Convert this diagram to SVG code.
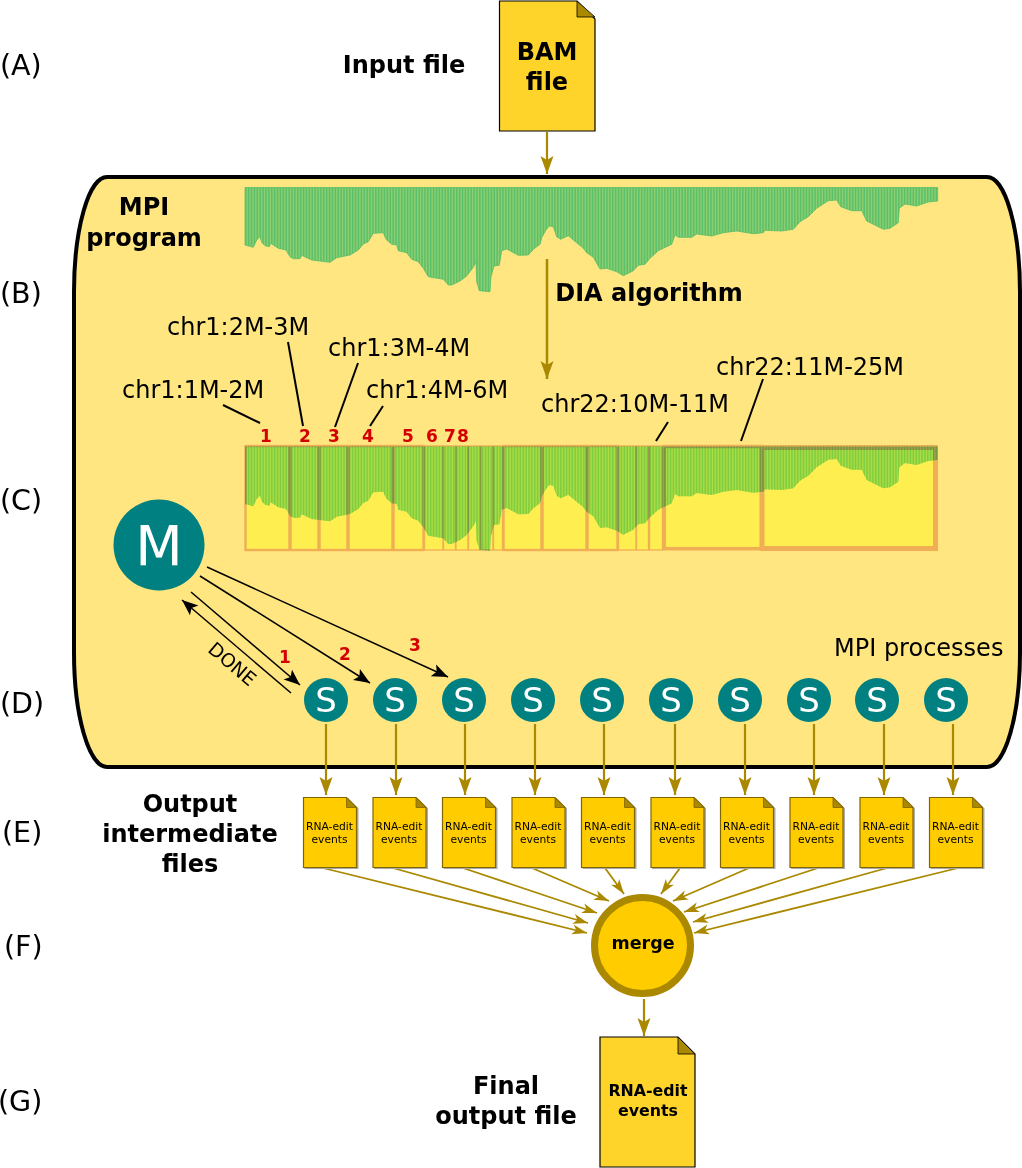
<svg xmlns="http://www.w3.org/2000/svg" xmlns:xlink="http://www.w3.org/1999/xlink" width="1022" height="1168" viewBox="0 0 1022 1168">
<style>
text{font-family:"DejaVu Sans",sans-serif;fill:#000}
.lab{font-size:28.500px}
.b24{font-size:24px;font-weight:bold;text-anchor:middle}
.r24{font-size:24px}
.red{font-size:17px;font-weight:bold;fill:#d40000;text-anchor:middle}
.small{font-size:10.700px;text-anchor:middle}
.bold17{font-size:17.500px;font-weight:bold;text-anchor:middle}
.s{font-size:34px;fill:#fff;text-anchor:middle}
.tl{fill:#008080}
.gold{stroke:#aa8800;stroke-width:2.200;fill:none;marker-end:url(#ag)}
.goldT{stroke:#aa8800;stroke-width:1.800;fill:none;marker-end:url(#agS)}
.blk{stroke:#000;stroke-width:1.500;fill:none;marker-end:url(#ak)}
.lead{stroke:#000;stroke-width:2;fill:none}
.doc{fill:#ffcc00;stroke:#806600;stroke-width:1.200}
.shadow{fill:#aaa}
.docB{fill:#ffd42a;stroke:#000;stroke-width:1.200}
.fold{fill:#aa8800;stroke:#000;stroke-width:.8;stroke-linejoin:round}
.foldS{fill:#aa8800;stroke:#806600;stroke-width:.8}
.box{fill:#ffee50;stroke:#f0ae55;stroke-width:2.400}
.thin{stroke-width:1.300}
.stripe{fill:none;stroke-width:120;stroke-dasharray:1.500 1.390}
</style>
<defs>
<path id="profile" d="M245,187.500H937.700V201L928.300,202 916.700,206 905,204 899.300,208.300 898.300,222.700 890,228.300 883.300,229.300 866.700,221 861.700,210.700 851.700,210.700 840.700,206.700 836.700,200 828.300,200.700 816.700,208.300 808.300,216.700 800,221.700 793.300,229.300 781.700,231 765,230.300 763.300,232.700 753.300,233.700 736.700,231 723.300,232.700 711.700,236 696.700,234 691.700,237.300 678.300,237.300 675,235 671.700,244.300 658.300,250.700 650,258.300 645,264.300 638.300,265.300 633.300,270.700 623.300,275.700 616.700,271.700 606.700,268.300 600,269 593.300,257.300 586.700,252.700 583.300,248.300 577.300,243.300 573.300,240 568.300,235.700 560.700,239.300 556.700,236.700 553.300,226.700 549.300,226 546,230 541.700,237.700 540,244.300 533.300,249.300 528.300,255 518.300,255.300 506.700,249 501.700,250.700 499.300,265.300 494,266 491,276.700 490,291.700 479.300,290.700 476.700,281.700 476,261.700 473.300,267.300 466.700,276 460,281 451.700,285 448.300,285 443.300,279.300 428.300,276.700 423.300,268.300 418.300,261.700 411.700,259.300 406.700,252.700 398.300,250.700 396.700,245 391.700,244.300 386,239.300 383.300,232.700 373.300,233.300 368.300,241.700 363.300,244 358.300,250 350,255 336.700,257.700 330,262.300 311.700,260 301.700,255.300 300,258.700 293.300,258.700 290,256.700 286,250 278.300,248.300 270.700,243.300 269.300,246.700 265,245.700 261.700,242.300 260,236.700 256.700,240 253.300,247.300 245,245Z"/>
<clipPath id="profileClip"><use href="#profile"/></clipPath>
<marker id="ag" markerUnits="userSpaceOnUse" markerWidth="22" markerHeight="16" viewBox="-20 -8 22 16" refX="0" refY="0" orient="auto"><path d="M0,0L-18,-6.500-14,0-18,6.500Z" fill="#aa8800"/></marker>
<marker id="agS" markerUnits="userSpaceOnUse" markerWidth="18" markerHeight="12" viewBox="-16 -6 18 12" refX="0" refY="0" orient="auto"><path d="M0,0L-15,-5-11,0-15,5Z" fill="#aa8800"/></marker>
<marker id="ak" markerUnits="userSpaceOnUse" markerWidth="20" markerHeight="16" viewBox="-18 -8 20 16" refX="0" refY="0" orient="auto"><path d="M0,0L-16,-6.500-12.500,0-16,6.500Z" fill="#000"/></marker>
<g id="smalldoc"><path class="shadow" d="M1,1H45L55,11V71.500H1Z"/><path class="doc" d="M0,0H43L53,10V70H0Z"/><path class="foldS" d="M43,0L53,10H43Z"/><text class="small" x="26" y="32">RNA-edit</text><text class="small" x="26" y="45">events</text></g>
</defs>

<rect id="mpi-program" x="74" y="177" width="946" height="590" rx="33" ry="115" fill="#ffe680" stroke="#000" stroke-width="4"/>

<g id="labels">
<text class="lab" x="0" y="75">(A)</text>
<text class="lab" x="0" y="303">(B)</text>
<text class="lab" x="0" y="510">(C)</text>
<text class="lab" x="0" y="713">(D)</text>
<text class="lab" x="2" y="842">(E)</text>
<text class="lab" x="4" y="956">(F)</text>
<text class="lab" x="-2" y="1111">(G)</text>
<text class="b24" x="404" y="73">Input file</text>
<text class="b24" x="144" y="215">MPI</text>
<text class="b24" x="144" y="246">program</text>
<text class="b24" x="649" y="301">DIA algorithm</text>
<text class="r24" x="167" y="335">chr1:2M-3M</text>
<text class="r24" x="328" y="356">chr1:3M-4M</text>
<text class="r24" x="122" y="398">chr1:1M-2M</text>
<text class="r24" x="366" y="398">chr1:4M-6M</text>
<text class="r24" x="541" y="412">chr22:10M-11M</text>
<text class="r24" x="716" y="375">chr22:11M-25M</text>
<text class="r24" x="834" y="656">MPI processes</text>
<text class="b24" x="190" y="812">Output</text>
<text class="b24" x="190" y="842">intermediate</text>
<text class="b24" x="190" y="872">files</text>
<text class="b24" x="506" y="1094">Final</text>
<text class="b24" x="506" y="1124">output file</text>
<text class="red" x="266" y="441.500">1</text>
<text class="red" x="305" y="441.500">2</text>
<text class="red" x="334" y="441.500">3</text>
<text class="red" x="368" y="441.500">4</text>
<text class="red" x="408" y="441.500">5</text>
<text class="red" x="432" y="441.500">6</text>
<text class="red" x="450" y="441.500">7</text>
<text class="red" x="463" y="441.500">8</text>
<text class="red" x="285" y="662.500">1</text>
<text class="red" x="345" y="660">2</text>
<text class="red" x="415" y="651">3</text>
<text x="0" y="0" font-size="19" text-anchor="middle" transform="translate(228,669) rotate(40.500)">DONE</text>
</g>

<g id="coverage-top"><use href="#profile" fill="#8ccf70" stroke="#5cbf6a" stroke-width=".8"/><path class="stripe" stroke="#5cbf6a" clip-path="url(#profileClip)" d="M245,240H938"/></g>

<g id="segments">
<rect class="box" x="245.500" y="446" width="44" height="104"/>
<rect class="box" x="290.500" y="446" width="28" height="104"/>
<rect class="box" x="319.500" y="446" width="28" height="104"/>
<rect class="box" x="348.500" y="446" width="44" height="104"/>
<rect class="box" x="393.500" y="446" width="30" height="104"/>
<rect class="box thin" x="424.500" y="446" width="18.500" height="104"/>
<rect class="box thin" x="443.500" y="446" width="12" height="104"/>
<rect class="box thin" x="456" y="446" width="12" height="104"/>
<rect class="box thin" x="468.500" y="446" width="12" height="104"/>
<rect class="box thin" x="481" y="446" width="12" height="104"/>
<rect class="box thin" x="493.500" y="446" width="9" height="104"/>
<rect class="box" x="503.500" y="446" width="38" height="104"/>
<rect class="box" x="542.500" y="446" width="44" height="104"/>
<rect class="box" x="587.500" y="446" width="30" height="104"/>
<rect class="box thin" x="618.500" y="446" width="17.500" height="104"/>
<rect class="box thin" x="636.500" y="446" width="12" height="104"/>
<rect class="box thin" x="649.500" y="446" width="13" height="104"/>
<rect class="box" style="stroke-width:3.500" x="664.300" y="446.500" width="97.700" height="102.200"/>
<rect class="box" style="stroke-width:5" x="762" y="447.500" width="173.500" height="101"/>
</g>
<g id="coverage-segments" style="mix-blend-mode:multiply" transform="translate(0,259)"><use href="#profile" fill="#aaecd8"/><path class="stripe" stroke="#80dcc8" clip-path="url(#profileClip)" d="M245,240H938"/></g>

<g id="connectors">
<path class="gold" d="M547,132V174"/>
<path class="gold" style="stroke-width:2.500" d="M547,259V379"/>
<path class="gold" d="M644,999V1036"/>
<path class="gold" d="M326,724V795"/>
<path class="gold" d="M396,724V795"/>
<path class="gold" d="M465,724V795"/>
<path class="gold" d="M535,724V795"/>
<path class="gold" d="M604,724V795"/>
<path class="gold" d="M675,724V795"/>
<path class="gold" d="M745,724V795"/>
<path class="gold" d="M814,724V795"/>
<path class="gold" d="M884,724V795"/>
<path class="gold" d="M953,724V795"/>
<path class="goldT" d="M323,868L587,933"/>
<path class="goldT" d="M393,868L588,923"/>
<path class="goldT" d="M463,868L597,913"/>
<path class="goldT" d="M532,868L609,901"/>
<path class="goldT" d="M605,868L624,894"/>
<path class="goldT" d="M680,868L661,894"/>
<path class="goldT" d="M749,868L673,901"/>
<path class="goldT" d="M818,868L684,912"/>
<path class="goldT" d="M887,868L693,922"/>
<path class="goldT" d="M958,868L694,933"/>
<path class="lead" d="M223,405L260,423"/>
<path class="lead" d="M288,342L303,426"/>
<path class="lead" d="M358,363L335,427"/>
<path class="lead" d="M383,406L370,426"/>
<path class="lead" d="M668,422L656,441"/>
<path class="lead" d="M763,379L741,441"/>
<path class="blk" d="M191,592L300,685"/>
<path class="blk" d="M200,576L370,683"/>
<path class="blk" d="M207,567L448,677"/>
<path class="blk" d="M291,693L182,600"/>
</g>

<g id="input-file"><path class="docB" d="M499.500,1H577L595,19V131H499.500Z"/><path class="fold" d="M577,1L595,17H577Z"/><text class="b24" x="547" y="60">BAM</text><text class="b24" x="547" y="90">file</text></g>
<g id="master"><circle class="tl" cx="159" cy="545" r="45.500"/><text class="s" style="font-size:55px" x="159" y="565">M</text></g>
<g id="slave-1"><circle class="tl" cx="326" cy="700" r="22"/><text class="s" x="326" y="712">S</text></g>
<g id="slave-2"><circle class="tl" cx="395" cy="700" r="22"/><text class="s" x="395" y="712">S</text></g>
<g id="slave-3"><circle class="tl" cx="464" cy="700" r="22"/><text class="s" x="464" y="712">S</text></g>
<g id="slave-4"><circle class="tl" cx="533" cy="700" r="22"/><text class="s" x="533" y="712">S</text></g>
<g id="slave-5"><circle class="tl" cx="602" cy="700" r="22"/><text class="s" x="602" y="712">S</text></g>
<g id="slave-6"><circle class="tl" cx="671" cy="700" r="22"/><text class="s" x="671" y="712">S</text></g>
<g id="slave-7"><circle class="tl" cx="740" cy="700" r="22"/><text class="s" x="740" y="712">S</text></g>
<g id="slave-8"><circle class="tl" cx="809" cy="700" r="22"/><text class="s" x="809" y="712">S</text></g>
<g id="slave-9"><circle class="tl" cx="877" cy="700" r="22"/><text class="s" x="877" y="712">S</text></g>
<g id="slave-10"><circle class="tl" cx="946" cy="700" r="22"/><text class="s" x="946" y="712">S</text></g>
<g id="out-1"><use href="#smalldoc" x="303.500" y="797.500"/></g>
<g id="out-2"><use href="#smalldoc" x="373" y="797.500"/></g>
<g id="out-3"><use href="#smalldoc" x="442.500" y="797.500"/></g>
<g id="out-4"><use href="#smalldoc" x="512" y="797.500"/></g>
<g id="out-5"><use href="#smalldoc" x="581.500" y="797.500"/></g>
<g id="out-6"><use href="#smalldoc" x="651" y="797.500"/></g>
<g id="out-7"><use href="#smalldoc" x="720.500" y="797.500"/></g>
<g id="out-8"><use href="#smalldoc" x="790" y="797.500"/></g>
<g id="out-9"><use href="#smalldoc" x="860" y="797.500"/></g>
<g id="out-10"><use href="#smalldoc" x="929.500" y="797.500"/></g>
<g id="merge"><circle cx="642.500" cy="945.500" r="48" fill="#ffcc00" stroke="#aa8800" stroke-width="7"/><text class="bold17" x="643" y="949">merge</text></g>
<g id="final-file"><path class="docB" d="M600,1037H678L695,1054V1167H600Z"/><path class="fold" d="M678,1037L695,1054H678Z"/><text class="bold17" style="font-size:15.800px" x="648" y="1096">RNA-edit</text><text class="bold17" style="font-size:15.800px" x="648" y="1116">events</text></g>
</svg>
